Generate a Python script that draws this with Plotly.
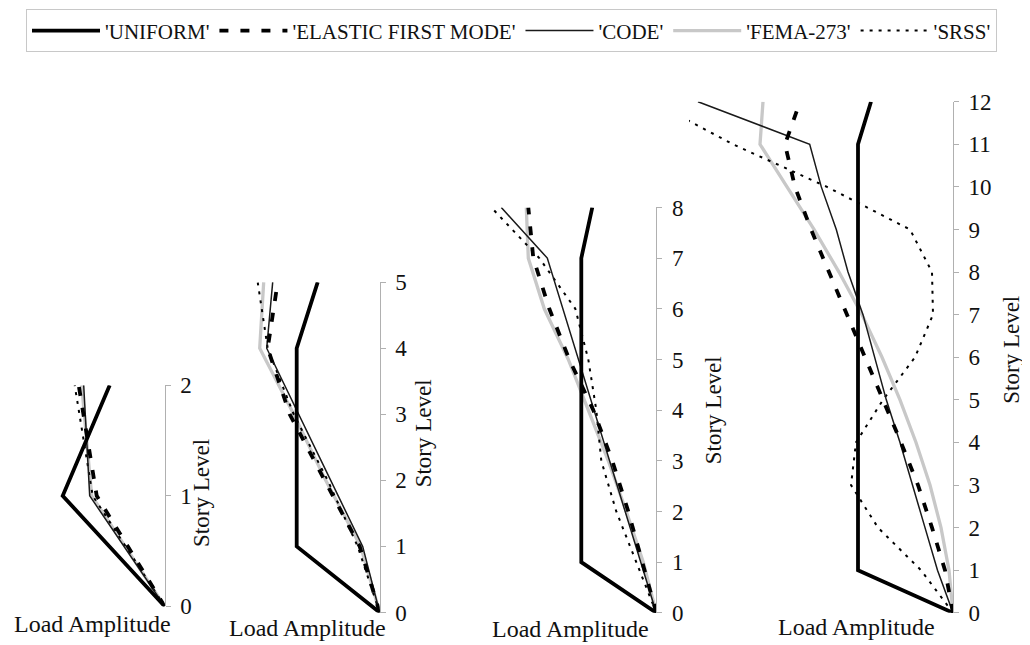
import plotly.graph_objects as go

# ---------------- data (load amplitude per story level, arbitrary units) ----------------
levels_2 = [0, 1, 2]
uniform_2 = [0, 102, 55]
elastic_2 = [0, 68, 86]
code_2 = [0, 75, 81]
fema_2 = [0, 73, 83]
srss_2 = [0, 72, 90]

levels_5 = [0, 1, 2, 3, 4, 5]
uniform_5 = [0, 83, 83, 83, 83, 62]
elastic_5 = [0, 20, 55, 90, 112, 102]
code_5 = [0, 17, 49, 81, 113, 107]
fema_5 = [0, 19, 54, 86, 120, 116]
srss_5 = [0, 22, 52, 86, 112, 122]

levels_8 = [0, 1, 2, 3, 4, 5, 6, 7, 8]
uniform_8 = [0, 75, 75, 75, 75, 75, 75, 75, 64]
elastic_8 = [0, 14, 28, 44, 63, 87, 107, 123, 128]
code_8 = [0, 15.5, 31, 46.5, 62, 77.5, 93, 109, 155]
fema_8 = [0, 13, 30, 48, 68, 88, 112, 128, 130]
srss_8 = [0, 20, 40, 55, 60, 68, 81, 117, 165]

levels_12 = [0, 1, 2, 3, 4, 5, 6, 7, 8, 9, 10, 11, 12]
uniform_12 = [0, 95, 95, 95, 95, 95, 95, 95, 95, 95, 95, 95, 82]
elastic_12 = [0, 8, 21, 35, 52, 70, 87, 106, 124, 142, 158, 168, 153]
code_12 = [0, 15.5, 28, 40.5, 53, 66.7, 78.3, 90, 105, 116.7, 131.7, 143.3, 255]
fema_12 = [0, 4, 12, 23, 37, 53, 71, 91, 114, 139, 166, 193, 190]
srss_12 = [0, 32, 75, 102, 97, 70, 38, 20, 21, 43, 126, 220, 300]

series_names = ["'UNIFORM'", "'ELASTIC FIRST MODE'", "'CODE'", "'FEMA-273'", "'SRSS'"]

buildings = [
    (levels_2, uniform_2, elastic_2, code_2, fema_2, srss_2),
    (levels_5, uniform_5, elastic_5, code_5, fema_5, srss_5),
    (levels_8, uniform_8, elastic_8, code_8, fema_8, srss_8),
    (levels_12, uniform_12, elastic_12, code_12, fema_12, srss_12),
]

# ---------------- layout geometry (pixels in a 1030 x 645 figure) ----------------
W, H = 1030, 645
axis_px = [156.7, 371.7, 648.3, 945.0]   # right edge (y axis) of each panel
left_px = [10.0, 230.0, 470.0, 681.0]    # left edge of each panel
top_px = [380.0, 272.7, 195.0, 85.0]     # top story tick
base_px = [610.0, 616.4, 616.7, 616.7]   # level 0 tick

FONT = "Liberation Serif, Times New Roman, serif"

styles = {
    "'UNIFORM'": dict(color="#000000", width=3.8),
    "'ELASTIC FIRST MODE'": dict(color="#000000", width=3.8, dash="9px,12px"),
    "'CODE'": dict(color="#1a1a1a", width=1.5),
    "'FEMA-273'": dict(color="#c8c8c8", width=3.3),
    "'SRSS'": dict(color="#000000", width=2, dash="3px,6px"),
}
rank = {n: i for i, n in enumerate(series_names)}
draw_order = ["'FEMA-273'", "'SRSS'", "'CODE'", "'ELASTIC FIRST MODE'", "'UNIFORM'"]

fig = go.Figure()
layout = dict()
for i, b in enumerate(buildings):
    lv = b[0]
    vals = dict(zip(series_names, b[1:]))
    xa = "x" if i == 0 else f"x{i+1}"
    ya = "y" if i == 0 else f"y{i+1}"
    for name in draw_order:
        fig.add_trace(go.Scatter(
            x=vals[name], y=lv, mode="lines", name=name,
            line=styles[name], xaxis=xa, yaxis=ya,
            legendgroup=name, showlegend=(i == 0), legendrank=rank[name],
            hoverinfo="skip"))
    xkey = "xaxis" if i == 0 else f"xaxis{i+1}"
    ykey = "yaxis" if i == 0 else f"yaxis{i+1}"
    layout[xkey] = dict(
        domain=[left_px[i] / W, axis_px[i] / W],
        range=[axis_px[i] - left_px[i], 0],
        showline=False, showticklabels=False, ticks="", showgrid=False,
        zeroline=False, anchor=ya)
    layout[ykey] = dict(
        domain=[(H - base_px[i]) / H, (H - top_px[i]) / H],
        range=[0, lv[-1]], side="right", anchor=xa,
        tickmode="array", tickvals=lv, ticktext=[str(v) for v in lv],
        showline=True, linecolor="#b0b0b0", linewidth=1,
        ticks="outside", ticklen=5, tickcolor="#b0b0b0",
        ticklabelstandoff=5,
        tickfont=dict(family=FONT, size=23, color="#111111"),
        showgrid=False, zeroline=False)

annotations = []
story_title_pos = [(194, 492), (415, 430), (705, 406), (1004, 343)]
for (x, y) in story_title_pos:
    annotations.append(dict(text="Story Level", x=x / W, y=1 - y / H, xref="paper", yref="paper",
                            showarrow=False, textangle=-90, xanchor="center", yanchor="middle",
                            font=dict(family=FONT, size=23, color="#111111")))
load_title_pos = [(84, 628), (299, 633), (562, 634), (848, 631)]
for (x, y) in load_title_pos:
    annotations.append(dict(text="Load Amplitude", x=x / W, y=1 - y / H, xref="paper", yref="paper",
                            showarrow=False, xanchor="center", yanchor="middle",
                            font=dict(family=FONT, size=24, color="#111111")))

fig.update_layout(
    **layout,
    width=W, height=H, autosize=False,
    margin=dict(l=0, r=0, t=0, b=0),
    paper_bgcolor="white", plot_bgcolor="rgba(0,0,0,0)",
    annotations=annotations,
    legend=dict(orientation="h", x=18 / W, y=1 + 11 / H, xanchor="left", yanchor="top",
                bordercolor="#c8c8c8", borderwidth=1, bgcolor="white",
                font=dict(family=FONT, size=21, color="#111111"),
                itemwidth=68, traceorder="normal", tracegroupgap=0),
    showlegend=True,
)

fig.write_html("out.html")
